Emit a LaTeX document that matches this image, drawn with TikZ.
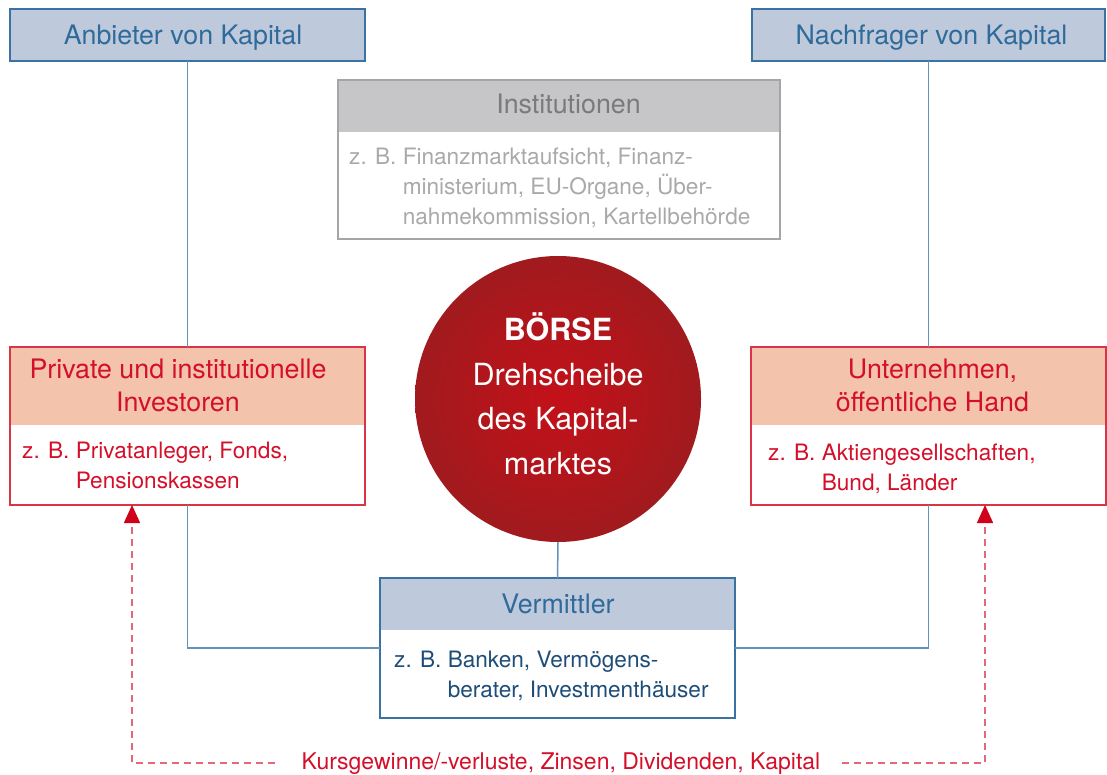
\documentclass[tikz,border=0pt]{standalone}
\usepackage{fontspec}
\setmainfont{TeX Gyre Heros}
\usetikzlibrary{arrows.meta}
\definecolor{bfill}{HTML}{BFC9DC}
\definecolor{bline}{HTML}{3A73A3}
\definecolor{btext}{HTML}{2F6B9A}
\definecolor{bdark}{HTML}{1E4D78}
\definecolor{conncol}{HTML}{6393BA}
\definecolor{gfill}{HTML}{C6C6C8}
\definecolor{gline}{HTML}{A5A5A5}
\definecolor{gtext}{HTML}{7A7A7A}
\definecolor{gbody}{HTML}{A9A9A9}
\definecolor{sfill}{HTML}{F3C4AB}
\definecolor{rline}{HTML}{DA3447}
\definecolor{rtext}{HTML}{D40F2A}
\definecolor{cin}{HTML}{C41119}
\definecolor{cout}{HTML}{A01A1E}
\definecolor{arred}{HTML}{D0021B}
\definecolor{dashcol}{HTML}{E5677A}
\newcommand\hdrfont{\fontsize{26.8}{33}\selectfont}
\newcommand\bdyfont{\fontsize{22.6}{30}\selectfont}
\newcommand\zbtxt{z. B.\ }
\begin{document}
\begin{tikzpicture}[x=1pt,y=-1pt,
  boxbase/.style={inner sep=0pt, outer sep=0pt, line width=1.5pt, anchor=north west},
  bluehead/.style={boxbase, fill=bfill, draw=bline},
  grayhead/.style={boxbase, fill=gfill},
  redhead/.style={boxbase, fill=sfill},
  frame/.style={boxbase, fill=none},
  htext/.style={inner sep=0pt, anchor=base, align=center, font=\hdrfont},
  bodytext/.style={inner sep=0pt, anchor=base west, align=left, font=\bdyfont},
  conn/.style={draw=conncol, line width=1.5pt},
  dashr/.style={draw=dashcol, line width=1.5pt, dash pattern=on 7pt off 5pt, -{Triangle[width=16pt,length=18pt,color=arred]}}
]
\useasboundingbox (0,0) rectangle (1107,775);

% top boxes
\node[bluehead, minimum width=355, minimum height=52] (anb) at (10,9) {};
\node[htext, text=btext] (anbt) at (183,45) {Anbieter von Kapital};
\node[bluehead, minimum width=353, minimum height=52] (nach) at (752,9) {};
\node[htext, text=btext] (nacht) at (931.5,45) {Nachfrager von Kapital};

% Institutionen
\node[grayhead, minimum width=442, minimum height=52] (insth) at (338,80) {};
\node[frame, draw=gline, minimum width=442, minimum height=159] (inst) at (338,80) {};
\node[htext, text=gtext] (instt) at (568.5,114) {Institutionen};
\node[bodytext, text=gbody] (instb) at (349,225) {\zbtxt Finanzmarktaufsicht, Finanz-\\\phantom{\zbtxt}ministerium, EU-Organe, Über-\\\phantom{\zbtxt}nahmekommission, Kartellbehörde};

% Investoren
\node[redhead, minimum width=355, minimum height=78] (invh) at (10,347) {};
\node[frame, draw=rline, minimum width=355, minimum height=158] (inv) at (10,347) {};
\node[htext, text=rtext] (invt) at (178,411) {Private und institutionelle\\Investoren};
\node[bodytext, text=rtext] (invb) at (22,488) {\zbtxt Privatanleger, Fonds,\\\phantom{\zbtxt}Pensionskassen};

% Unternehmen
\node[redhead, minimum width=355, minimum height=78] (unth) at (751,347) {};
\node[frame, draw=rline, minimum width=355, minimum height=158] (unt) at (751,347) {};
\node[htext, text=rtext] (untt) at (932.5,411) {Unternehmen,\\öffentliche Hand};
\node[bodytext, text=rtext] (untb) at (768,490) {\zbtxt Aktiengesellschaften,\\\phantom{\zbtxt}Bund, Länder};

% Vermittler
\node[grayhead, fill=bfill, minimum width=355, minimum height=52] (verh) at (380,578) {};
\node[frame, draw=bline, minimum width=355, minimum height=140] (ver) at (380,578) {};
\node[htext, text=btext] (vert) at (558,613) {Vermittler};
\node[bodytext, text=bdark] (verb) at (394,697) {\zbtxt Banken, Vermögens-\\\phantom{\zbtxt}berater, Investmenthäuser};

% Boerse
\node[circle, minimum size=286pt, inner sep=0pt, outer sep=0pt, inner color=cin, outer color=cout] (boerse) at (558,399) {};
\node[inner sep=0pt, anchor=base, text=white, align=center, font={\fontsize{30.5}{44.4}\selectfont}] (boerset) at (558,474) {\textbf{BÖRSE}\\Drehscheibe\\des Kapital-\\marktes};

% solid connectors
\draw[conn] (anb.south) -- (inv.north);
\draw[conn] (nach.south) -- (unt.north);
\draw[conn] (inv.south) |- (ver.west);
\draw[conn] (unt.south) |- (ver.east);
\draw[conn] (boerse.south) -- (ver.north);

% return flows
\node[inner sep=0pt, anchor=base, text=rtext, font={\fontsize{23}{28}\selectfont}] (kurs) at (561,769) {Kursgewinne/-verluste, Zinsen, Dividenden, Kapital};
\draw[dashr] ([xshift=-27pt]kurs.west) -| ([xshift=122pt]inv.south west);
\draw[dashr] ([xshift=22pt]kurs.east) -| ([xshift=-121pt]unt.south east);
\end{tikzpicture}
\end{document}
